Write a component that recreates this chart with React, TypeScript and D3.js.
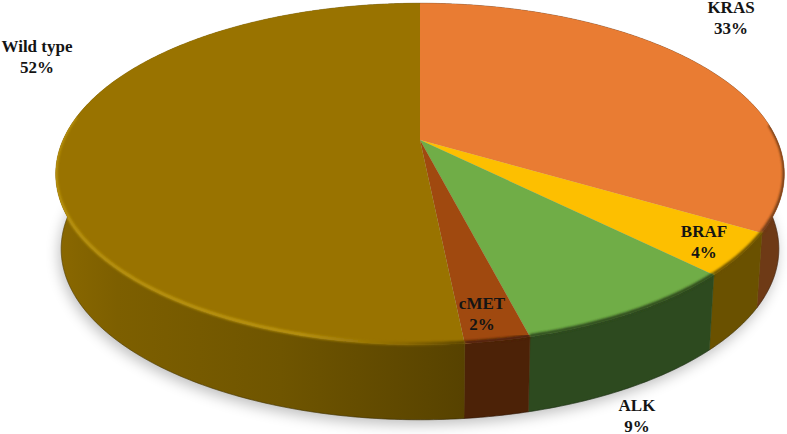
import React from 'react';
import * as d3 from 'd3';

const width = 787;
const height = 434;

// values, the labels show them rounded
const names = ['KRAS', 'BRAF', 'ALK', 'cMET', 'Wild type'];
const shares = [33.5, 4.0, 8.5, 2.4, 51.6];
const percentLabels = ['33%', '4%', '9%', '2%', '52%'];
const topColors = ['#e97c33', '#fdbf00', '#70ad47', '#a0490f', '#997300'];
const sideColors = ['#6e3a16', '#6a5100', '#2d4a1f', '#4c2207', 'url(#wildSide)'];
const rimColors = ['#6e3a16', '#6a5100', '#2d4a1f', '#4c2207', 'url(#wildRim)'];
const labelX = [731, 704, 637, 482, 37];
const labelY = [13, 237, 411, 309, 52];

// perspective of the tilted disc
const cx = 420;
const apexY = 140;
const radiusX = 357;
const radiusY = 164;
const tilt = 0.199;
const depth = 75;
const bottomScale = 0.985;

const project = (angle: number, level: number): [number, number] => {
    const u = Math.sin(angle);
    const v = -Math.cos(angle);
    const s = 1 / (1 - tilt * v);
    const x = radiusX * u * s;
    const y = apexY + radiusY * v * s;
    return level === 0 ? [cx + x, y] : [cx + x * bottomScale, y + depth];
};

const arcPoints = (start: number, end: number, level: number) => {
    const steps = Math.max(2, Math.ceil((end - start) / 0.01));
    return d3.range(steps + 1).map(i => project(start + ((end - start) * i) / steps, level));
};

const line = d3.line();

export default function App() {
    const slices = d3.pie<number>().sort(null).value(d => d)(shares);
    const rimFrom = (85 * Math.PI) / 180;
    const rimTo = (278 * Math.PI) / 180;
    const fullTop = line(arcPoints(0, 2 * Math.PI, 0)) + 'Z';
    const fullBottom = line(arcPoints(0, 2 * Math.PI, 1)) + 'Z';
    const walls = slices.map(
        d =>
            line([
                ...arcPoints(d.startAngle, d.endAngle, 0),
                ...arcPoints(d.startAngle, d.endAngle, 1).reverse(),
            ]) + 'Z'
    );

    return (
        <svg
            width={width}
            height={height}
            style={{ position: 'absolute', left: 0, top: 0, background: '#fff' }}
        >
            <defs>
                <linearGradient id="wildSide" gradientUnits="userSpaceOnUse" x1={56} x2={465} y1={0} y2={0}>
                    <stop offset="0" stopColor="#8a6800" />
                    <stop offset="0.15" stopColor="#7d5f00" />
                    <stop offset="0.55" stopColor="#6f5500" />
                    <stop offset="1" stopColor="#574200" />
                </linearGradient>
                <linearGradient id="wildRim" gradientUnits="userSpaceOnUse" x1={56} x2={465} y1={0} y2={0}>
                    <stop offset="0" stopColor="#b8920f" />
                    <stop offset="0.6" stopColor="#b8920f" />
                    <stop offset="0.85" stopColor="#8a6800" />
                    <stop offset="1" stopColor="#574200" />
                </linearGradient>
                <filter id="shadowBlur" x="-10%" y="-10%" width="120%" height="120%">
                    <feGaussianBlur stdDeviation="7" />
                </filter>
                <filter id="rimBlur" x="-5%" y="-5%" width="110%" height="110%">
                    <feGaussianBlur stdDeviation="1.3" />
                </filter>
                <clipPath id="discClip">
                    <path d={fullTop} />
                    {walls.map((w, i) => (
                        <path key={names[i]} d={w} />
                    ))}
                </clipPath>
            </defs>

            {/* soft shadow under the disc */}
            <path d={fullBottom} fill="#000" opacity={0.25} filter="url(#shadowBlur)" transform="translate(-2,5)" />

            {/* side wall */}
            {slices.map((d, i) => (
                <path key={names[i]} d={walls[i]} fill={sideColors[i]} stroke={sideColors[i]} strokeWidth={0.5} />
            ))}

            {/* darker line along the bottom edge */}
            {slices.map((d, i) => {
                const from = Math.max(d.startAngle, rimFrom);
                const to = Math.min(d.endAngle, rimTo);
                return (
                    <path
                        key={names[i]}
                        d={line(arcPoints(from, to, 1)) ?? ''}
                        fill="none"
                        stroke="#000"
                        strokeOpacity={0.25}
                        strokeWidth={1}
                    />
                );
            })}

            {/* top face */}
            {slices.map((d, i) => (
                <path
                    key={names[i]}
                    d={line([[cx, apexY], ...arcPoints(d.startAngle, d.endAngle, 0)]) + 'Z'}
                    fill={topColors[i]}
                />
            ))}

            {/* bevel along the front edge */}
            <g clipPath="url(#discClip)">
                {slices.map((d, i) => {
                    const from = Math.max(d.startAngle, rimFrom);
                    const to = Math.min(d.endAngle, rimTo);
                    return (
                        <path
                            key={names[i]}
                            d={line(arcPoints(from, to, 0)) ?? ''}
                            fill="none"
                            stroke={rimColors[i]}
                            strokeWidth={3.5}
                            filter="url(#rimBlur)"
                            transform="translate(0,-1)"
                        />
                    );
                })}
            </g>

            {names.map((name, i) => (
                <text
                    key={name}
                    textAnchor="middle"
                    fontFamily="'Liberation Serif', serif"
                    fontWeight="bold"
                    fontSize={17}
                    fill="#141414"
                >
                    <tspan x={labelX[i]} y={labelY[i]}>{name}</tspan>
                    <tspan x={labelX[i]} y={labelY[i] + 20.5}>{percentLabels[i]}</tspan>
                </text>
            ))}
        </svg>
    );
}
